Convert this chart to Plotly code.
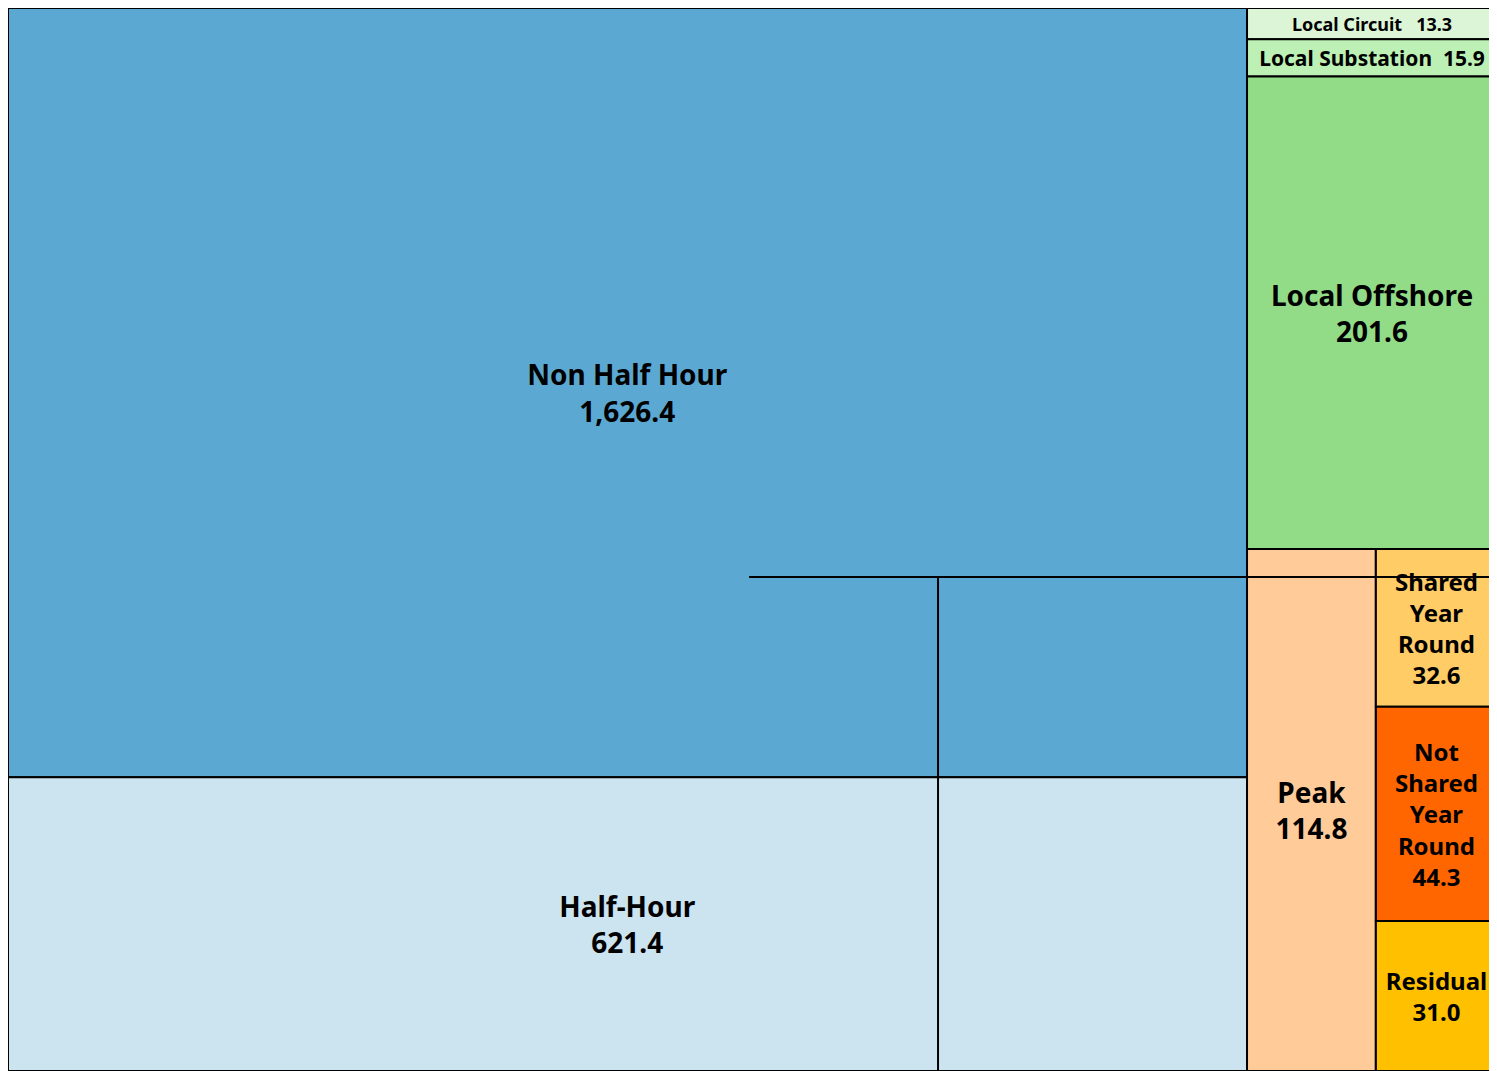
import plotly.graph_objects as go

# hierarchy of charges (values in GBP m); order sets the tiling order
ids = ["Total", "Demand", "NHH", "HH",
       "Generation", "LC", "LS", "LO", "Wider", "Peak",
       "Year Round", "SYR", "NSYR", "Residual"]
parents = ["", "Total", "Demand", "Demand",
           "Total", "Generation", "Generation", "Generation", "Generation", "Wider",
           "Wider", "Year Round", "Year Round", "Year Round"]
labels = ["", "", "Non Half Hour", "Half-Hour",
          "", "Local Circuit", "Local Substation", "Local Offshore", "", "Peak",
          "", "Shared<br>Year<br>Round", "Not<br>Shared<br>Year<br>Round", "Residual"]
values = [0, 0, 1626.4, 621.4,
          0, 13.3, 15.9, 201.6, 0, 114.8,
          0, 32.6, 44.3, 31.0]

colors = ["rgba(0,0,0,0)", "#5BA9D2", "#5BA9D2", "#CCE3F0",
          "#92DC88", "#DCF5D6", "#BCF0B4", "#92DC88", "#FFCC99", "#FFCC99",
          "#FFCC66", "#FFCC66", "#FF6600", "#FFC000"]

templates = []
for i, lab in zip(ids, labels):
    if lab == "":
        templates.append("")
    elif i == "LC":
        templates.append("<b>%{label}\u00a0\u00a0\u00a0%{value:,.1f}</b>")
    elif i == "LS":
        templates.append("<b>%{label}\u00a0\u00a0%{value:,.1f}</b>")
    else:
        templates.append("<b>%{label}<br>%{value:,.1f}</b>")

font_size = {"LC": 18, "LS": 21, "SYR": 24, "NSYR": 24, "Residual": 24}
sizes = [font_size.get(i, 28) for i in ids]

fig = go.Figure(go.Treemap(
    ids=ids,
    parents=parents,
    labels=labels,
    values=values,
    branchvalues="remainder",
    sort=False,
    tiling=dict(packing="slice-dice", pad=0),
    marker=dict(colors=colors, line=dict(color="black", width=2),
                pad=dict(t=0, l=0, r=0, b=0)),
    texttemplate=templates,
    textposition="middle center",
    textfont=dict(family="Noto Sans", color="black", size=sizes),
    pathbar=dict(visible=False),
    hoverinfo="skip",
))

# stray gridlines seen in the source picture
fig.add_shape(type="line", xref="paper", yref="paper", x0=0.4977, x1=1.0,
              y0=0.4647, y1=0.4647, line=dict(color="black", width=2), layer="above")
fig.add_shape(type="line", xref="paper", yref="paper", x0=0.6246, x1=0.6246,
              y0=0.0, y1=0.4647, line=dict(color="black", width=2), layer="above")

fig.update_layout(
    width=1489, height=1063,
    margin=dict(l=0, r=0, t=0, b=0),
    paper_bgcolor="white",
)

fig.write_html("out.html")
